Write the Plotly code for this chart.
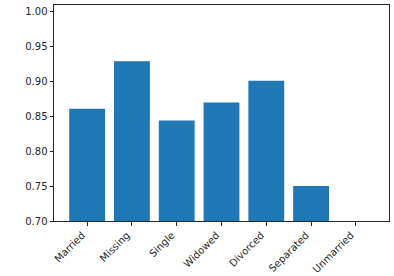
import plotly.graph_objects as go

categories = ["Married", "Missing", "Single", "Widowed", "Divorced", "Separated", "Unmarried"]
values = [0.861, 0.929, 0.844, 0.870, 0.901, 0.750, 0.0]
y_ticks = [0.70, 0.75, 0.80, 0.85, 0.90, 0.95, 1.00]

fig = go.Figure(go.Bar(x=categories, y=values, marker=dict(color="#1f77b4", line=dict(width=0)), width=0.8,
                       hoverinfo="skip"))

axis_common = dict(
    showline=True, linecolor="#262626", linewidth=1, mirror=True,
    ticks="outside", ticklen=3.5, tickwidth=1, tickcolor="#262626",
    showgrid=False, zeroline=False, automargin=False,
    tickfont=dict(family="DejaVu Sans", size=10, color="#262626"),
)

fig.update_layout(
    width=394, height=276,
    margin=dict(l=54, r=5, t=4.5, b=55),
    paper_bgcolor="white", plot_bgcolor="white",
    showlegend=False,
    xaxis=dict(type="category", range=[-0.74, 6.74], tickangle=-45, ticklabelshift=-5, **axis_common),
    yaxis=dict(range=[0.70, 1.0096], tickvals=y_ticks, tickformat=".2f", **axis_common),
)

fig.write_html("out.html", config={"displayModeBar": False, "staticPlot": True},
               post_script="document.body.style.margin='0';document.body.style.overflow='hidden';")
